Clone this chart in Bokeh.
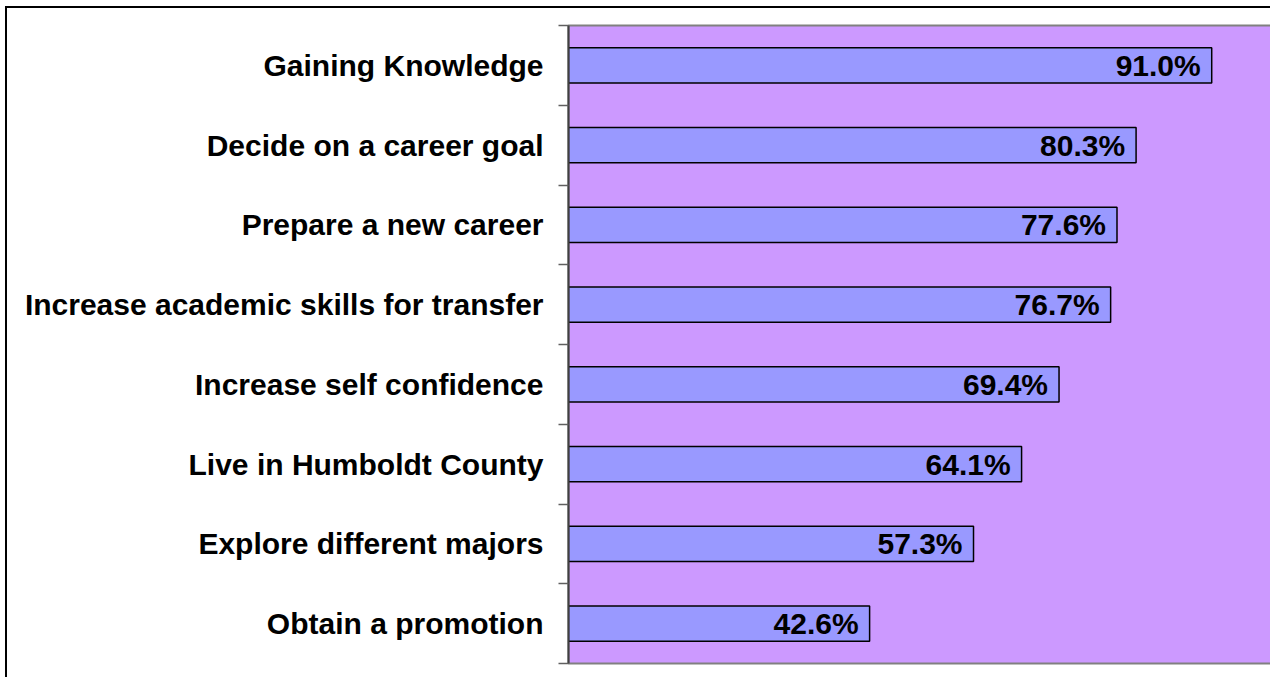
from bokeh.plotting import figure
from bokeh.models import Range1d, FixedTicker, ColumnDataSource
from bokeh.core.properties import value
from bokeh.embed import file_html
from bokeh.resources import INLINE

categories = ["Gaining Knowledge", "Decide on a career goal", "Prepare a new career",
              "Increase academic skills for transfer", "Increase self confidence",
              "Live in Humboldt County", "Explore different majors", "Obtain a promotion"]
percents = [91.0, 80.3, 77.6, 76.7, 69.4, 64.1, 57.3, 42.6]
value_labels = ["91.0%", "80.3%", "77.6%", "76.7%", "69.4%", "64.1%", "57.3%", "42.6%"]

n = len(categories)
ypos = [n - i - 0.5 for i in range(n)]

src = ColumnDataSource(dict(y=ypos, v=percents, lab=value_labels))

p = figure(width=1265, height=671, output_backend="svg", toolbar_location=None,
           x_range=Range1d(0, 99.6), y_range=Range1d(0, n),
           min_border_left=561, min_border_right=0, min_border_top=17, min_border_bottom=16)

p.styles = {"margin-left": "5px", "margin-top": "6px",
            "border-left": "2px solid black", "border-top": "2px solid black"}

p.background_fill_color = "#CC99FF"
p.border_fill_color = "white"
p.outline_line_color = "#808080"
p.outline_line_width = 2
p.xgrid.visible = False
p.ygrid.visible = False
p.xaxis.visible = False

p.hbar(y="y", left=0, right="v", height=0.44, source=src,
       fill_color="#9999FF", line_color="black", line_width=1.5)

p.text(x="v", y="y", text="lab", source=src, x_offset=-11,
       text_align="right", text_baseline="middle",
       text_font=value("Liberation Sans"), text_font_style="bold",
       text_font_size="30px", text_color="black")

yax = p.yaxis[0]
yax.ticker = FixedTicker(ticks=ypos, minor_ticks=list(range(n + 1)))
yax.major_label_overrides = {y: c for y, c in zip(ypos, categories)}
yax.major_tick_in = 0
yax.major_tick_out = 0
yax.minor_tick_in = 0
yax.minor_tick_out = 10
yax.minor_tick_line_color = "#606060"
yax.minor_tick_line_width = 1.5
yax.axis_line_color = "#404040"
yax.axis_line_width = 2
yax.major_label_standoff = 15
yax.major_label_text_font = "Liberation Sans"
yax.major_label_text_font_style = "bold"
yax.major_label_text_font_size = "30px"
yax.major_label_text_color = "black"

open("out.html", "w").write(file_html(p, INLINE))
